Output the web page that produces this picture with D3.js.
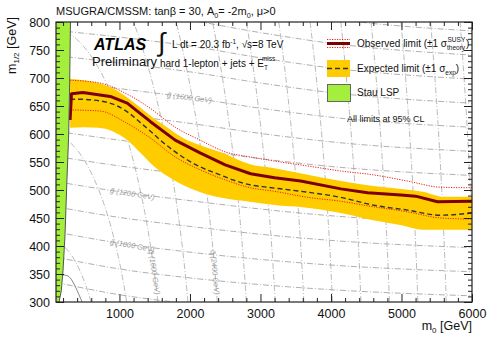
<!DOCTYPE html>
<html>
<head>
<meta charset="utf-8">
<script src="https://cdn.jsdelivr.net/npm/d3@7"></script>
<style>
body { margin: 0; background: #fff; }
svg { font-family: "Liberation Sans", Arial, Helvetica, sans-serif; }
</style>
</head>
<body>
<div id="chart"></div>
<script>
// ---- limit curves (m0, m1/2 in GeV)
const obsM0  = [300, 320, 480, 870, 1110, 1440, 1790, 2150, 2500, 2860, 3200, 3570, 4140, 4520, 4990, 5200, 5510, 6000];
const obsM12 = [625, 672, 674, 667, 655, 622, 589, 566, 545, 529, 522, 516, 502, 495, 491, 489, 479, 480];

const obsUpM0  = [300, 726, 1081, 1436, 1791, 2146, 2501, 2856, 3182, 3665, 4134, 4603, 5086, 5554, 6000];
const obsUpM12 = [696, 691, 673, 646, 612, 589, 568, 559, 552, 543, 534, 527, 516, 505, 504];

const obsDnM0  = [300, 726, 1081, 1436, 1791, 2146, 2501, 2856, 3182, 3665, 4134, 4603, 5086, 5554, 6000];
const obsDnM12 = [643, 641, 621, 593, 559, 536, 518, 504, 498, 487, 480, 470, 461, 450, 448];

const expM0  = [300, 440, 730, 970, 1150, 1290, 1440, 1580, 1760, 1960, 2150, 2430, 2610, 2860, 3100, 3420, 4130, 4600, 5090, 5550, 6000];
const expM12 = [662, 662, 659, 650, 636, 621, 605, 589, 571, 554, 541, 527, 518, 509, 505, 500, 487, 473, 464, 455, 459];

const bandM0 = [300, 500, 700, 900, 1100, 1300, 1500, 1700, 1900, 2150, 2450, 2850, 3200, 3600, 4100, 4600, 5000, 5300, 5600, 6000];
const bandHi = [698, 696, 691, 682, 666, 647, 627, 610, 593, 580, 567, 546, 539, 529, 517, 507, 502, 497, 488, 488];
const bandLo = [611, 612, 611, 605, 590, 566, 541, 523, 509, 496, 486, 479, 473, 469, 460, 446, 437, 429, 429, 429];

// stau LSP boundary and the small theory curve at bottom left
const stauM12 = [300, 320, 357, 420, 518, 600, 700, 800];
const stauM0  = [143, 175, 200, 228, 255, 280, 295, 305];
const lepM0  = [200, 270, 330, 400, 470];
const lepM12 = [348, 348, 339, 321, 300];

// iso-mass guide lines
const gluinoMasses = [800, 900, 1000, 1100, 1200, 1300, 1400, 1500, 1600, 1700, 1800, 1900, 2000, 2100];
const gluinoKnotM0 = [100, 1000, 2000, 3000, 4000, 6000];
const gluino1000M12 = [425, 405, 389, 376, 366, 354];
const gluinoStep = [45, 46, 46, 45, 44, 43];   // m1/2 shift per 100 GeV of gluino mass
const gluinoLabels = [[1000, 868], [1200, 868], [1400, 1677], [1600, 1677]];

const squarkMasses = [800, 1200, 1600, 2000, 2400, 2800, 3200, 3600, 4000, 4400, 4800, 5200, 5600, 6000];
const squarkLabels = [[1600, 393], [2400, 393]];
const squarkM12 = d3.range(300, 801, 10);

const xMajor = [1000, 2000, 3000, 4000, 5000, 6000];
const yMajor = [300, 350, 400, 450, 500, 550, 600, 650, 700, 750, 800];

// ---- layout
const W = 489, H = 338;
const L = 56, R = 472, T = 22, B = 302;

const x = d3.scaleLinear().domain([100, 6000]).range([L, R]);
const y = d3.scaleLinear().domain([300, 800]).range([B, T]);

const svg = d3.select("#chart").append("svg")
    .attr("width", W).attr("height", H);

svg.append("defs").append("clipPath").attr("id", "plot")
    .append("rect").attr("x", L).attr("y", T).attr("width", R - L).attr("height", B - T);

const plot = svg.append("g").attr("clip-path", "url(#plot)");

const zip = (a, b) => a.map((v, i) => [v, b[i]]);
const line = d3.line().x(d => x(d[0])).y(d => y(d[1]));
const smooth = d3.line().x(d => x(d[0])).y(d => y(d[1])).curve(d3.curveMonotoneX);

// gluino iso-mass lines
function gluinoLine(m) {
    return gluinoKnotM0.map((m0, i) => [m0, gluino1000M12[i] + gluinoStep[i] * (m - 1000) / 100]);
}
plot.selectAll("path.gl")
    .data(gluinoMasses)
    .join("path")
    .attr("class", "gl")
    .attr("d", m => smooth(gluinoLine(m)))
    .attr("fill", "none")
    .attr("stroke", "#9a9a9a")
    .attr("stroke-width", 0.8)
    .attr("stroke-dasharray", "6,2,1,2");

// squark iso-mass lines
function squarkLine(m) {
    const M = m + 70;
    return squarkM12.filter(v => M * M - 4.45 * v * v > 0)
        .map(v => [Math.sqrt(M * M - 4.45 * v * v), v]);
}
plot.selectAll("path.sq")
    .data(squarkMasses)
    .join("path")
    .attr("class", "sq")
    .attr("d", m => line(squarkLine(m)))
    .attr("fill", "none")
    .attr("stroke", "#a8a8a8")
    .attr("stroke-width", 0.8)
    .attr("stroke-dasharray", "6,2,1,2");

// guide labels
gluinoLabels.forEach(([m, m0]) => {
    const pts = gluinoLine(m);
    const i = d3.bisector(d => d).right(gluinoKnotM0, m0) - 1;
    const t = (m0 - pts[i][0]) / (pts[i + 1][0] - pts[i][0]);
    const m12 = pts[i][1] + t * (pts[i + 1][1] - pts[i][1]);
    const ang = Math.atan2(y(pts[i + 1][1]) - y(pts[i][1]), x(pts[i + 1][0]) - x(pts[i][0])) * 180 / Math.PI;
    plot.append("text")
        .attr("transform", `translate(${x(m0)},${y(m12)}) rotate(${ang})`)
        .attr("dy", "0.35em")
        .attr("font-size", 7.5)
        .attr("font-style", "italic")
        .attr("fill", "#a0a0a0")
        .text(`g\u0303 (${m} GeV)`);
});
squarkLabels.forEach(([m, m12]) => {
    const M = m + 70;
    const a = [Math.sqrt(M * M - 4.45 * m12 * m12), m12];
    const b = [Math.sqrt(M * M - 4.45 * (m12 - 20) * (m12 - 20)), m12 - 20];
    const ang = Math.atan2(y(b[1]) - y(a[1]), x(b[0]) - x(a[0])) * 180 / Math.PI;
    plot.append("text")
        .attr("transform", `translate(${x(a[0])},${y(a[1])}) rotate(${ang})`)
        .attr("dy", "0.35em")
        .attr("font-size", 7.5)
        .attr("font-style", "italic")
        .attr("fill", "#a0a0a0")
        .text(`q\u0303 (${m} GeV)`);
});

// expected band
plot.append("path")
    .datum(bandM0.map((m0, i) => [m0, bandLo[i], bandHi[i]]))
    .attr("d", d3.area().x(d => x(d[0])).y0(d => y(d[1])).y1(d => y(d[2])).curve(d3.curveMonotoneX))
    .attr("fill", "#ffcc00");

// theory variations of the observed limit
[zip(obsUpM0, obsUpM12), zip(obsDnM0, obsDnM12)].forEach(pts => {
    plot.append("path")
        .attr("d", smooth(pts))
        .attr("fill", "none")
        .attr("stroke", "#e8231c")
        .attr("stroke-width", 1)
        .attr("stroke-dasharray", "1.2,1.3");
});

// expected limit
plot.append("path")
    .attr("d", smooth(zip(expM0, expM12)))
    .attr("fill", "none")
    .attr("stroke", "#333333")
    .attr("stroke-width", 1.4)
    .attr("stroke-dasharray", "5,3");

// observed limit
plot.append("path")
    .attr("d", line(zip(obsM0, obsM12)))
    .attr("fill", "none")
    .attr("stroke", "#7d0000")
    .attr("stroke-width", 3)
    .attr("stroke-linejoin", "round");

// stau LSP region
const stauPts = zip(stauM0, stauM12);
plot.append("path")
    .attr("d", line([[0, 300], ...stauPts, [0, 800]]))
    .attr("fill", "#a3ef3c")
    .attr("stroke", "none");
plot.append("path")
    .attr("d", line(stauPts))
    .attr("fill", "none")
    .attr("stroke", "#555")
    .attr("stroke-width", 1);
plot.append("path")
    .attr("d", d3.line().x(d => x(d[0])).y(d => y(d[1])).curve(d3.curveBasis)(zip(lepM0, lepM12)))
    .attr("fill", "none")
    .attr("stroke", "#666")
    .attr("stroke-width", 0.8);

// ---- axes
const tickStyle = g => {
    g.select(".domain").remove();
    g.selectAll("line").attr("stroke", "#222").attr("stroke-width", 1);
    g.selectAll("text").attr("font-size", 12.5).attr("fill", "#111")
        .attr("font-family", "'Liberation Sans', Arial, sans-serif");
};
const xMinor = d3.range(200, 6000, 200).filter(v => v % 1000 !== 0);
const yMinor = d3.range(310, 800, 10).filter(v => v % 50 !== 0);

svg.append("g").attr("transform", `translate(0,${B})`)
    .call(d3.axisBottom(x).tickValues(xMajor).tickSize(-8).tickPadding(7).tickFormat(d3.format("d")))
    .call(tickStyle);
svg.append("g").attr("transform", `translate(0,${B})`)
    .call(d3.axisBottom(x).tickValues(xMinor).tickSize(-4).tickFormat(""))
    .call(tickStyle);
svg.append("g").attr("transform", `translate(0,${T})`)
    .call(d3.axisTop(x).tickValues(xMajor).tickSize(-8).tickFormat(""))
    .call(tickStyle);
svg.append("g").attr("transform", `translate(0,${T})`)
    .call(d3.axisTop(x).tickValues(xMinor).tickSize(-4).tickFormat(""))
    .call(tickStyle);

svg.append("g").attr("transform", `translate(${L},0)`)
    .call(d3.axisLeft(y).tickValues(yMajor).tickSize(-8).tickPadding(6))
    .call(tickStyle);
svg.append("g").attr("transform", `translate(${L},0)`)
    .call(d3.axisLeft(y).tickValues(yMinor).tickSize(-4).tickFormat(""))
    .call(tickStyle);
svg.append("g").attr("transform", `translate(${R},0)`)
    .call(d3.axisRight(y).tickValues(yMajor).tickSize(-8).tickFormat(""))
    .call(tickStyle);
svg.append("g").attr("transform", `translate(${R},0)`)
    .call(d3.axisRight(y).tickValues(yMinor).tickSize(-4).tickFormat(""))
    .call(tickStyle);

svg.append("rect")
    .attr("x", L).attr("y", T).attr("width", R - L).attr("height", B - T)
    .attr("fill", "none").attr("stroke", "#222").attr("stroke-width", 1.2);

// ---- texts
function rich(parent, px, py, size, parts, attrs = {}) {
    const t = parent.append("text").attr("x", px).attr("y", py).attr("font-size", size).attr("fill", "#111");
    Object.entries(attrs).forEach(([k, v]) => t.attr(k, v));
    let shift = 0;
    parts.forEach(([s, mode]) => {
        const ts = t.append("tspan").text(s);
        let target = mode === "sub" ? size * 0.3 : mode === "sup" ? -size * 0.4 : 0;
        ts.attr("dy", target - shift);
        if (mode !== "n") ts.attr("font-size", size * 0.65);
        shift = target;
    });
    return t;
}

rich(svg, 56, 15, 11, [["MSUGRA/CMSSM: tan\u03b2 = 30, A", "n"], ["0", "sub"], ["= -2m", "n"], ["0", "sub"], [", \u03bc>0", "n"]]);

svg.append("text")
    .attr("transform", "translate(16,17) rotate(-90)")
    .attr("text-anchor", "end")
    .attr("font-size", 12.5)
    .attr("fill", "#111")
    .call(t => {
        t.append("tspan").text("m");
        t.append("tspan").text("1/2").attr("font-size", 8).attr("dy", 3);
        t.append("tspan").text(" [GeV]").attr("dy", -3);
    });

svg.append("text")
    .attr("x", 472).attr("y", 330)
    .attr("text-anchor", "end")
    .attr("font-size", 12.5)
    .attr("fill", "#111")
    .call(t => {
        t.append("tspan").text("m");
        t.append("tspan").text("0").attr("font-size", 8).attr("dy", 3);
        t.append("tspan").text(" [GeV]").attr("dy", -3);
    });

svg.append("text").attr("x", 94).attr("y", 50)
    .attr("font-size", 16).attr("font-weight", "bold").attr("font-style", "italic")
    .attr("fill", "#000").text("ATLAS");
svg.append("text").attr("x", 92).attr("y", 66)
    .attr("font-size", 13).attr("fill", "#111").text("Preliminary");

svg.append("text").attr("x", 158).attr("y", 51)
    .attr("font-size", 26).attr("font-weight", "300").attr("fill", "#111").text("\u222b");
rich(svg, 172, 48, 10, [["L dt = 20.3 fb", "n"], ["-1", "sup"], [", \u221as=8 TeV", "n"]]);
rich(svg, 160, 67, 10, [["hard 1-lepton + jets + E", "n"], ["T", "sub"]]).call(t => {
    const len = t.node().getComputedTextLength();
    svg.append("text").attr("x", 160 + len - 6).attr("y", 61).attr("font-size", 6.5).attr("fill", "#111").text("miss");
});

// legend
const lx = 327, lw = 23;
svg.append("line").attr("x1", lx).attr("x2", lx + lw).attr("y1", 39.5).attr("y2", 39.5)
    .attr("stroke", "#e8231c").attr("stroke-dasharray", "1.2,1.3");
svg.append("line").attr("x1", lx).attr("x2", lx + lw).attr("y1", 47.5).attr("y2", 47.5)
    .attr("stroke", "#e8231c").attr("stroke-dasharray", "1.2,1.3");
svg.append("line").attr("x1", lx).attr("x2", lx + lw).attr("y1", 43.5).attr("y2", 43.5)
    .attr("stroke", "#7d0000").attr("stroke-width", 3);

svg.append("rect").attr("x", lx).attr("y", 60).attr("width", lw).attr("height", 17).attr("fill", "#ffcc00");
svg.append("line").attr("x1", lx).attr("x2", lx + lw).attr("y1", 68.5).attr("y2", 68.5)
    .attr("stroke", "#333").attr("stroke-width", 1.4).attr("stroke-dasharray", "5,3");

svg.append("rect").attr("x", lx + 0.5).attr("y", 84.5).attr("width", lw).attr("height", 17)
    .attr("fill", "#a3ef3c").attr("stroke", "#666").attr("stroke-width", 1);

const obsText = svg.append("text").attr("x", 357).attr("y", 47).attr("font-size", 10).attr("fill", "#111")
    .text("Observed limit (\u00b11 \u03c3");
const ol = obsText.node().getComputedTextLength();
svg.append("text").attr("x", 357 + ol + 0.5).attr("y", 41.5).attr("font-size", 6.5).attr("fill", "#111").text("SUSY");
svg.append("text").attr("x", 357 + ol).attr("y", 50).attr("font-size", 6.5).attr("fill", "#111").text("theory");
svg.append("text").attr("x", 357 + ol + 19).attr("y", 47).attr("font-size", 10).attr("fill", "#111").text(")");

rich(svg, 357, 72, 10, [["Expected limit (\u00b11 \u03c3", "n"], ["exp", "sub"], [")", "n"]]);
svg.append("text").attr("x", 357).attr("y", 96).attr("font-size", 10).attr("fill", "#111").text("Stau LSP");
svg.append("text").attr("x", 347).attr("y", 122).attr("font-size", 9).attr("fill", "#111").text("All limits at 95% CL");
</script>
</body>
</html>
